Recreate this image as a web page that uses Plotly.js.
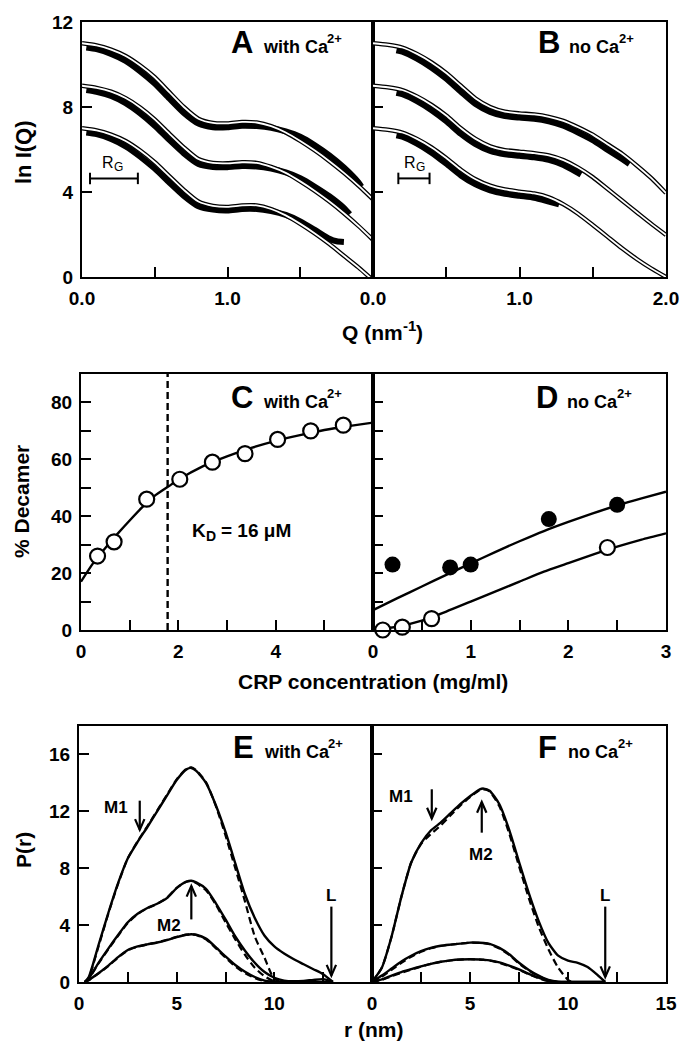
<!DOCTYPE html>
<html><head><meta charset="utf-8">
<script src="https://cdn.plot.ly/plotly-3.0.1.min.js"></script>
<style>body{margin:0;background:#fff;}</style></head>
<body><div id="chart" style="width:682px;height:1043px;"></div>
<script>
// ---------- Panel A / B : ln I(Q) vs Q ----------
const qFit = [0,0.1,0.2,0.3,0.4,0.5,0.6,0.7,0.8,0.9,1.0,1.1,1.2,1.3,1.4,1.5,1.6,1.7,1.8,1.9,2.0];
const aFitTop = [11.0,10.9,10.7,10.4,9.95,9.4,8.7,8.0,7.45,7.25,7.23,7.3,7.27,7.1,6.8,6.4,5.95,5.45,4.9,4.3,3.65];
const aFitMid = [9.0,8.9,8.72,8.42,7.98,7.42,6.75,6.1,5.55,5.37,5.35,5.4,5.37,5.18,4.9,4.5,4.05,3.55,3.0,2.4,1.75];
const aFitLow = [7.0,6.9,6.7,6.4,5.95,5.4,4.75,4.1,3.55,3.35,3.3,3.37,3.37,3.2,2.9,2.5,2.05,1.55,1.0,0.45,-0.15];
const qDataATop = [0.03,0.1,0.2,0.3,0.4,0.5,0.6,0.7,0.8,0.9,1.0,1.1,1.2,1.3,1.4,1.5,1.6,1.7,1.8,1.9,1.92];
const aDataTop = [10.8,10.72,10.5,10.17,9.68,9.1,8.4,7.72,7.22,7.05,7.05,7.12,7.1,7.02,6.85,6.6,6.2,5.72,5.15,4.45,4.25];
const qDataAMid = [0.03,0.1,0.2,0.3,0.4,0.5,0.6,0.7,0.8,0.9,1.0,1.1,1.2,1.3,1.4,1.5,1.6,1.7,1.8,1.84];
const aDataMid = [8.8,8.72,8.52,8.18,7.7,7.12,6.45,5.82,5.32,5.18,5.17,5.22,5.2,5.1,4.92,4.65,4.25,3.8,3.25,2.95];
const qDataALow = [0.03,0.1,0.2,0.3,0.4,0.5,0.6,0.7,0.8,0.9,1.0,1.1,1.2,1.3,1.4,1.5,1.6,1.7,1.75,1.8];
const aDataLow = [6.8,6.72,6.5,6.15,5.67,5.1,4.45,3.82,3.33,3.17,3.13,3.2,3.2,3.1,2.92,2.62,2.22,1.8,1.68,1.65];

const bFitTop = [11.0,10.93,10.8,10.5,10.1,9.6,9.0,8.4,8.0,7.78,7.7,7.65,7.54,7.35,7.05,6.7,6.25,5.8,5.25,4.65,3.95];
const bFitMid = [9.0,8.93,8.8,8.5,8.1,7.6,7.0,6.5,6.15,5.97,5.9,5.83,5.72,5.5,5.15,4.7,4.15,3.6,3.05,2.5,1.98];
const bFitLow = [7.0,6.93,6.8,6.5,6.1,5.6,5.05,4.6,4.3,4.12,4.02,3.93,3.75,3.42,2.98,2.45,1.9,1.35,0.85,0.4,0.0];
const qDataBTop = [0.16,0.2,0.3,0.4,0.5,0.6,0.7,0.8,0.9,1.0,1.1,1.2,1.3,1.4,1.5,1.6,1.7,1.75];
const bDataTop = [10.67,10.6,10.28,9.85,9.33,8.72,8.14,7.77,7.57,7.5,7.45,7.33,7.12,6.8,6.44,5.99,5.55,5.32];
const qDataBMid = [0.16,0.2,0.3,0.4,0.5,0.6,0.7,0.8,0.9,1.0,1.1,1.2,1.3,1.4,1.42];
const bDataMid = [8.67,8.6,8.28,7.85,7.33,6.73,6.25,5.93,5.77,5.7,5.63,5.51,5.27,4.9,4.82];
const qDataBLow = [0.16,0.2,0.3,0.4,0.5,0.6,0.7,0.8,0.9,1.0,1.1,1.2,1.27];
const bDataLow = [6.67,6.6,6.28,5.85,5.33,4.78,4.36,4.08,3.92,3.82,3.73,3.55,3.42];

// ---------- Panel C / D : % Decamer vs CRP concentration ----------
const cConc = [0.34,0.68,1.35,2.03,2.70,3.37,4.04,4.72,5.39];
const cDecamer = [26,31,46,53,59,62,67,70,72];
const cFitX = [0,0.25,0.5,0.75,1.0,1.25,1.5,1.8,2.0,2.5,3.0,3.5,4.0,4.5,5.0,5.5,6.0];
const cFitY = [17,23.5,28.8,33.8,38.5,43,47,50.5,52.8,57.5,61,64,66.5,68.5,70.3,71.7,72.9];
const kdConc = 1.78;
const dFilledX = [0.2,0.79,1.0,1.8,2.5];
const dFilledY = [23,22,23,39,44];
const dOpenX = [0.1,0.3,0.6,2.4];
const dOpenY = [0,1,4,29];
const dFitX = [0,0.25,0.5,0.75,1.0,1.25,1.5,1.75,2.0,2.25,2.5,2.75,3.0];
const dFitUpper = [7,11.2,15.3,19.4,23.4,27.4,31.2,34.8,38,41,43.8,46.3,48.6];
const dFitLower = [0,1.2,3.3,6.5,10,13.5,17,20.5,23.5,26.5,29.3,31.8,34];

// ---------- Panel E / F : P(r) vs r ----------
const eR = [0.3,0.5,1,1.5,2,2.5,3,3.5,4,4.5,5,5.5,5.75,6,6.5,7,7.5,8,8.5,9,9.5,10,10.5,11,11.5,12,12.5,13];
const eLargeSolid = [0,0.35,2.6,4.85,6.95,8.7,9.85,10.9,12.0,13.1,14.2,14.95,15.05,14.85,14.0,12.45,10.55,8.35,6.15,4.5,3.25,2.5,2.0,1.6,1.25,0.9,0.55,0];
const eMidSolid = [0,0.25,1.35,2.35,3.3,4.2,4.8,5.2,5.5,5.9,6.6,7.05,7.12,7.0,6.55,5.55,4.4,3.2,2.2,1.35,0.7,0.3,0.1,0.05,0.08,0.15,0.2,0];
const eLowSolid = [0,0.15,0.62,1.15,1.75,2.25,2.5,2.65,2.78,2.95,3.15,3.32,3.36,3.32,3.05,2.45,1.8,1.2,0.72,0.35,0.1,0,0,0,0,0,0,0];
const eRDash = [0.3,0.5,1,1.5,2,2.5,3,3.5,4,4.5,5,5.5,5.75,6,6.5,7,7.5,8,8.5,9,9.5,10,10.5];
const eLargeDash = [0,0.3,2.5,4.8,6.9,8.7,9.9,10.95,12.05,13.15,14.25,15.0,15.1,14.9,14.05,12.4,10.3,8.0,5.65,3.2,1.7,0.2,0];
const eMidDash = [0,0.22,1.3,2.3,3.25,4.15,4.78,5.18,5.5,5.92,6.62,7.05,7.1,6.95,6.45,5.45,4.2,3.0,1.9,1.0,0.4,0.05,0];
const eLowDash = [0,0.12,0.6,1.12,1.72,2.22,2.48,2.64,2.78,2.97,3.17,3.33,3.36,3.3,3.0,2.38,1.72,1.1,0.62,0.28,0.06,0,0];

const fR = [0,0.5,1,1.5,2,2.5,3,3.5,4,4.5,5,5.5,5.7,6,6.5,7,7.5,8,8.5,9,9.5,10,10.5,11,11.5,11.9];
const fLargeSolid = [0,1.0,3.2,6.0,8.4,9.75,10.65,11.2,11.85,12.5,13.06,13.55,13.6,13.45,12.5,10.7,8.45,6.25,4.3,2.75,1.85,1.5,1.35,1.05,0.5,0];
const fMidSolid = [0,0.45,0.95,1.45,1.85,2.17,2.4,2.55,2.63,2.7,2.77,2.76,2.74,2.68,2.4,1.95,1.35,0.85,0.45,0.15,0.02,0,0,0,0,0];
const fLowSolid = [0,0.18,0.45,0.7,0.9,1.1,1.28,1.42,1.52,1.58,1.6,1.58,1.56,1.52,1.38,1.15,0.88,0.57,0.3,0.08,0,0,0,0,0,0];
const fRDash = [0,0.5,1,1.5,2,2.5,3,3.5,4,4.5,5,5.5,5.7,6,6.5,7,7.5,8,8.5,9,9.5,10,10.2];
const fLargeDash = [0,1.0,3.2,6.0,8.4,9.7,10.4,11.0,11.7,12.4,13.0,13.5,13.55,13.4,12.35,10.45,8.15,5.9,3.9,2.3,1.0,0.15,0];
const fMidDash = [0,0.38,0.85,1.35,1.78,2.12,2.37,2.53,2.62,2.7,2.76,2.75,2.73,2.65,2.35,1.9,1.3,0.8,0.4,0.12,0,0,0];
const fLowDash = [0,0.15,0.4,0.65,0.87,1.08,1.27,1.41,1.51,1.58,1.6,1.58,1.56,1.5,1.35,1.12,0.85,0.54,0.27,0.06,0,0,0];

// ---------- ticks (labelled major ticks, unlabelled minor ticks) ----------
const qTicksA = [0,1.0], qTextA = ['0.0','1.0'];
const qTicksB = [0,1.0,2.0], qTextB = ['0.0','1.0','2.0'];
const qMinor = [0.5,1.5];
const lnTicks = [0,4,8,12], lnText = ['0','4','8','12'];
const cTicks = [0,2,4], cText = ['0','2','4'], cMinor = [1,3,5];
const dTicks = [0,1,2,3], dText = ['0','1','2','3'], dMinor = [0.5,1.5,2.5];
const pctTicks = [0,20,40,60,80], pctText = ['0','20','40','60','80'], pctMinor = [10,30,50,70];
const pctAll = [10,20,30,40,50,60,70,80];
const rTicksE = [0,5,10], rTextE = ['0','5','10'];
const rTicksF = [0,5,10,15], rTextF = ['0','5','10','15'];
const rMinor = [2.5,7.5,12.5];
const pTicks = [0,4,8,12,16], pText = ['0','4','8','12','16'];

const FONT = 'Liberation Sans, Arial, Helvetica, sans-serif';
const W = 682, H = 1043;
const px = v => v / W, py = v => 1 - v / H;

const traces = [];
const SM = 0.6;
function line(x, y, xa, ya, o) {
  traces.push(Object.assign({type:'scatter', mode:'lines', x:x, y:y, xaxis:xa, yaxis:ya,
    line:{color:'#000', width:2.4, shape:'spline', smoothing:SM}, hoverinfo:'skip', showlegend:false}, o || {}));
}
function dataBand(x, y, xa, ya) { line(x, y, xa, ya, {line:{color:'#000', width:6, shape:'spline', smoothing:SM}}); }
function fitDouble(x, y, xa, ya) {
  line(x, y, xa, ya, {line:{color:'#000', width:4.4, shape:'spline', smoothing:SM}});
  line(x, y, xa, ya, {line:{color:'#fff', width:1.8, shape:'spline', smoothing:SM}});
}

// A
dataBand(qDataATop, aDataTop, 'x', 'y'); dataBand(qDataAMid, aDataMid, 'x', 'y'); dataBand(qDataALow, aDataLow, 'x', 'y');
fitDouble(qFit, aFitTop, 'x', 'y'); fitDouble(qFit, aFitMid, 'x', 'y'); fitDouble(qFit, aFitLow, 'x', 'y');
// B
dataBand(qDataBTop, bDataTop, 'x2', 'y2'); dataBand(qDataBMid, bDataMid, 'x2', 'y2'); dataBand(qDataBLow, bDataLow, 'x2', 'y2');
fitDouble(qFit, bFitTop, 'x2', 'y2'); fitDouble(qFit, bFitMid, 'x2', 'y2'); fitDouble(qFit, bFitLow, 'x2', 'y2');
// C
line(cFitX, cFitY, 'x3', 'y3');
line([kdConc, kdConc], [0, 90], 'x3', 'y3', {line:{color:'#000', width:2.4, dash:'7px,4px'}});
traces.push({type:'scatter', mode:'markers', x:cConc, y:cDecamer, xaxis:'x3', yaxis:'y3', showlegend:false, hoverinfo:'skip',
  marker:{symbol:'circle', size:15, color:'#fff', line:{color:'#000', width:2.2}}, cliponaxis:false});
// D
line(dFitX, dFitUpper, 'x4', 'y4'); line(dFitX, dFitLower, 'x4', 'y4');
traces.push({type:'scatter', mode:'markers', x:dFilledX, y:dFilledY, xaxis:'x4', yaxis:'y4', showlegend:false, hoverinfo:'skip',
  marker:{symbol:'circle', size:16, color:'#000'}, cliponaxis:false});
traces.push({type:'scatter', mode:'markers', x:dOpenX, y:dOpenY, xaxis:'x4', yaxis:'y4', showlegend:false, hoverinfo:'skip',
  marker:{symbol:'circle', size:15, color:'#fff', line:{color:'#000', width:2.2}}, cliponaxis:false});
// E
const dashL = {color:'#000', width:2.2, dash:'7px,4px', shape:'spline', smoothing:SM};
line(eRDash, eLargeDash, 'x5', 'y5', {line:dashL}); line(eRDash, eMidDash, 'x5', 'y5', {line:dashL}); line(eRDash, eLowDash, 'x5', 'y5', {line:dashL});
line(eR, eLargeSolid, 'x5', 'y5'); line(eR, eMidSolid, 'x5', 'y5'); line(eR, eLowSolid, 'x5', 'y5');
// F
line(fRDash, fLargeDash, 'x6', 'y6', {line:dashL}); line(fRDash, fMidDash, 'x6', 'y6', {line:dashL}); line(fRDash, fLowDash, 'x6', 'y6', {line:dashL});
line(fR, fLargeSolid, 'x6', 'y6'); line(fR, fMidSolid, 'x6', 'y6'); line(fR, fLowSolid, 'x6', 'y6');

function axis(o, minorVals) {
  const a = Object.assign({showline:true, linewidth:2, linecolor:'#000', mirror:true, ticks:'inside', ticklen:10,
    tickwidth:2, tickcolor:'#000', showgrid:false, zeroline:false, tickmode:'array', fixedrange:true,
    tickfont:{family:FONT, size:19, weight:'bold', color:'#000'}, ticklabelstandoff:3}, o);
  if (minorVals) a.minor = {tickmode:'array', tickvals:minorVals, ticks:'inside', ticklen:10, tickwidth:2, tickcolor:'#000', showgrid:false};
  return a;
}
const rowA = [py(277), py(22)], rowC = [py(630), py(374)], rowE = [py(982), py(726)];
const layout = {
  width:W, height:H, margin:{l:0, r:0, t:0, b:0}, paper_bgcolor:'#fff', plot_bgcolor:'#fff', showlegend:false,
  font:{family:FONT, color:'#000'},
  xaxis: axis({domain:[px(82), px(373)], range:[0,2], tickvals:qTicksA, ticktext:qTextA, anchor:'y'}, qMinor),
  yaxis: axis({domain:rowA, range:[0,12], tickvals:lnTicks, ticktext:lnText, anchor:'x'}),
  xaxis2: axis({domain:[px(373), px(666)], range:[0,2], tickvals:qTicksB, ticktext:qTextB, anchor:'y2'}, qMinor),
  yaxis2: axis({domain:rowA, range:[0,12], tickvals:lnTicks, showticklabels:false, anchor:'x2'}),
  xaxis3: axis({domain:[px(81), px(373)], range:[0,6], tickvals:cTicks, ticktext:cText, anchor:'y3'}, cMinor),
  yaxis3: axis({domain:rowC, range:[0,90], tickvals:pctTicks, ticktext:pctText, anchor:'x3'}, pctMinor),
  xaxis4: axis({domain:[px(373), px(666)], range:[0,3], tickvals:dTicks, ticktext:dText, anchor:'y4'}, dMinor),
  yaxis4: axis({domain:rowC, range:[0,90], tickvals:pctAll, showticklabels:false, anchor:'x4'}),
  xaxis5: axis({domain:[px(79), px(372)], range:[0,15], tickvals:rTicksE, ticktext:rTextE, anchor:'y5'}, rMinor),
  yaxis5: axis({domain:rowE, range:[0,18], tickvals:pTicks, ticktext:pText, anchor:'x5'}),
  xaxis6: axis({domain:[px(372), px(666)], range:[0,15], tickvals:rTicksF, ticktext:rTextF, anchor:'y6'}, rMinor),
  yaxis6: axis({domain:rowE, range:[0,18], tickvals:pTicks, showticklabels:false, anchor:'x6'}),
  shapes: [], annotations: []
};

const ann = layout.annotations;
// text placed by pixel position (x = left edge unless anchor given, y = vertical centre)
function ptext(text, x, y, size, o) {
  ann.push(Object.assign({text:text, x:px(x), y:py(y), xref:'paper', yref:'paper', showarrow:false,
    font:{family:FONT, size:size, color:'#000'}, xanchor:'left', yanchor:'middle'}, o || {}));
}
const B = t => '<b>' + t + '</b>';
// axis titles
ptext(B('ln I(Q)'), 24, 152, 22, {textangle:-90, xanchor:'center'});
ptext(B('Q (nm'), 340, 333, 21);
ptext(B('-1'), 400.5, 325, 15);
ptext(B(')'), 413.5, 333, 21);
ptext(B('% Decamer'), 22, 502, 21, {textangle:-90, xanchor:'center'});
ptext(B('CRP concentration (mg/ml)'), 373, 681, 21, {xanchor:'center'});
ptext(B('P(r)'), 23, 850, 21, {textangle:-90, xanchor:'center'});
ptext(B('r (nm)'), 374, 1029, 21, {xanchor:'center'});
// panel labels: [letter, words, letter x, letter centre y, words x, words width]
const panels = [['A','with Ca',229,42.3,261,64],['B','no Ca',536,42.3,567,50],
                ['C','with Ca',229,397.3,261,64],['D','no Ca',534,397.3,565,50],
                ['E','with Ca',231,747.3,262,64],['F','no Ca',536,747.3,566,50]];
panels.forEach(p => {
  ptext(B(p[0]), p[2], p[3], 31);
  ptext(B(p[1]), p[4], p[3] + 4.8, 18);
  ptext(B('2+'), p[4] + p[5], p[3] - 3.5, 13);
});
// K_D text
ptext(B('K'), 190, 530, 19);
ptext(B('D'), 203.7, 536, 14);
ptext(B('= 16 μM'), 219, 530, 19);
// R_G labels
[[100, 162], [402, 162]].forEach(r => {
  ptext('R', r[0], r[1], 16);
  ptext('G', r[0] + 11.6, r[1] + 5.5, 12);
});
// R_G bars
[['x','y',0.055,0.384],['x2','y2',0.173,0.386]].forEach(b => {
  const s = {type:'line', xref:b[0], yref:b[1], line:{color:'#000', width:2}};
  layout.shapes.push(Object.assign({x0:b[2], x1:b[3], y0:4.64, y1:4.64}, s));
  layout.shapes.push(Object.assign({x0:b[2], x1:b[2], y0:4.37, y1:4.91}, s));
  layout.shapes.push(Object.assign({x0:b[3], x1:b[3], y0:4.37, y1:4.91}, s));
});
// arrows (shaft + open V head) and labels in E / F
function arrow(xa, ya, x, tipY, tailY) {
  const dir = tailY > tipY ? 1 : -1;
  const hy = tipY + dir * 0.75, hx = 0.24;
  const s = {xref:xa, yref:ya, line:{color:'#000', width:2.2}};
  layout.shapes.push(Object.assign({type:'line', x0:x, x1:x, y0:tailY, y1:tipY}, s));
  layout.shapes.push(Object.assign({type:'path', path:'M' + (x - hx) + ',' + hy + ' L' + x + ',' + tipY + ' L' + (x + hx) + ',' + hy}, s));
}
function dtext(xa, ya, t, x, y) {
  ann.push({text:B(t), x:x, y:y, xref:xa, yref:ya, showarrow:false, font:{family:FONT, size:17, color:'#000'}});
}
arrow('x5','y5', 3.11, 10.7, 12.75); dtext('x5','y5','M1', 1.9, 12.3);
arrow('x5','y5', 5.75, 6.75, 4.4); dtext('x5','y5','M2', 4.6, 3.95);
arrow('x5','y5', 12.92, 0.45, 5.3); dtext('x5','y5','L', 12.9, 6.1);
arrow('x6','y6', 3.05, 11.5, 13.55); dtext('x6','y6','M1', 1.5, 13.05);
arrow('x6','y6', 5.6, 12.65, 10.5); dtext('x6','y6','M2', 5.55, 8.95);
arrow('x6','y6', 11.9, 0.35, 5.3); dtext('x6','y6','L', 11.9, 6.1);

Plotly.newPlot('chart', traces, layout, {staticPlot:true, displayModeBar:false});
</script></body></html>
